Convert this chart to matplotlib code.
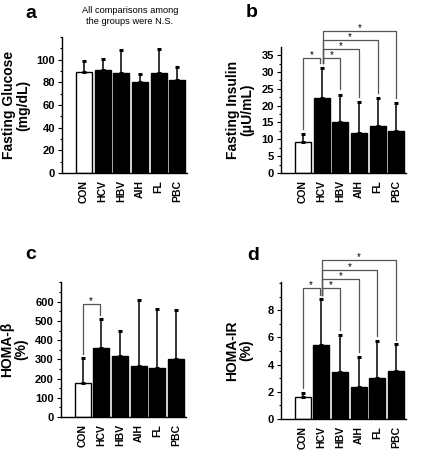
import numpy as np
import matplotlib
matplotlib.use('Agg')
import matplotlib.pyplot as plt
import matplotlib.ticker as mticker

plt.rcParams['font.family'] = ['Liberation Sans', 'DejaVu Sans']

# dados
groups = ['CON', 'HCV', 'HBV', 'AIH', 'FL', 'PBC']

glucose = [89.5, 90.7, 88.3, 80.1, 88.3, 82.5]
glucose_sd = [9.0, 10.0, 20.0, 7.5, 21.0, 11.3]

insulin = [9.1, 22.3, 15.0, 11.8, 14.0, 12.6]
insulin_sd = [2.5, 8.8, 8.3, 9.4, 8.2, 8.1]

homa_b = [175, 361, 318, 264, 253, 302]
homa_b_sd = [134, 149, 130, 345, 308, 254]

homa_ir = [1.60, 5.44, 3.43, 2.33, 3.04, 3.50]
homa_ir_sd = [0.33, 3.36, 2.74, 2.25, 2.69, 1.99]

# comparacoes significativas: (grupo i, grupo j, altura do colchete)
sig_b = [(0, 1, 34.0), (1, 2, 34.0), (1, 3, 36.7), (1, 4, 39.5), (1, 5, 42.1)]
sig_c = [(0, 1, 587)]
sig_d = [(0, 1, 9.65), (1, 2, 9.65), (1, 3, 10.27), (1, 4, 10.95), (1, 5, 11.7)]

W, H = 422, 451
fig = plt.figure(figsize=(W / 100, H / 100), dpi=100)


def make_ax(left, top, bottom):
    width = 6.7 * 18.7
    return fig.add_axes([left / W, 1 - bottom / H, width / W, (bottom - top) / H])


def draw_panel(ax, means, sds, ylim, major, top_tick, minor, ylabel, label_x):
    x = np.arange(len(groups))
    colors = ['white'] + ['black'] * (len(groups) - 1)
    ax.bar(x, means, width=0.86, color=colors, edgecolor='black', linewidth=1,
           yerr=[np.zeros(len(sds)), sds],
           error_kw=dict(ecolor='black', elinewidth=1.1, capsize=1.6, capthick=2.2))
    ax.set_xlim(-1.17, 5.53)
    ax.set_ylim(*ylim)
    ax.set_xticks(x)
    ax.set_xticklabels(groups, rotation=90, fontsize=7.5, fontweight='bold')
    ax.yaxis.set_major_locator(mticker.FixedLocator(np.arange(0, top_tick + major / 2, major)))
    ax.yaxis.set_minor_locator(mticker.MultipleLocator(minor))
    for lab in ax.get_yticklabels():
        lab.set_fontweight('bold')
    ax.tick_params(axis='y', which='major', direction='out', length=3, width=0.8,
                   labelsize=8, pad=2)
    ax.tick_params(axis='y', which='minor', direction='out', length=1.6, width=0.8)
    ax.tick_params(axis='x', length=0, pad=5)
    for s in ['top', 'right']:
        ax.spines[s].set_visible(False)
    for s in ['left', 'bottom']:
        ax.spines[s].set_linewidth(1)
    ax.set_ylabel(ylabel, fontsize=10, fontweight='bold', linespacing=1.0)
    ax.yaxis.set_label_coords(label_x, 0.5)


def draw_sig(ax, means, sds, sigs, gap):
    tops = np.array(means) + np.array(sds)
    for i, j, level in sigs:
        xi = i + (0.06 if i == 1 else 0)
        xj = j - (0.08 if i == 0 else 0)
        ax.plot([xi, xi, xj, xj], [tops[i] + gap, level, level, tops[j] + gap],
                color='#555555', lw=0.9, clip_on=False)
        ax.annotate('*', ((xi + xj) / 2, level), xytext=(0, 0),
                    textcoords='offset pixels', ha='center', va='baseline',
                    fontsize=7, annotation_clip=False)


ax_a = make_ax(62, 37, 173)
draw_panel(ax_a, glucose, glucose_sd, (0, 120), 20, 100, 10,
           'Fasting Glucose\n(mg/dL)', -0.256)

ax_b = make_ax(281, 47, 173)
draw_panel(ax_b, insulin, insulin_sd, (0, 37.4), 5, 35, 2.5,
           'Fasting Insulin\n(\u03bcU/mL)', -0.216)
draw_sig(ax_b, insulin, insulin_sd, sig_b, 1.5)

ax_c = make_ax(60.7, 281.7, 417)
draw_panel(ax_c, homa_b, homa_b_sd, (0, 704), 100, 600, 50,
           'HOMA-\u03b2\n(%)', -0.26)
draw_sig(ax_c, homa_b, homa_b_sd, sig_c, 20)

ax_d = make_ax(280.7, 281.7, 419)
draw_panel(ax_d, homa_ir, homa_ir_sd, (0, 10.1), 2, 8, 1,
           'HOMA-IR\n(%)', -0.22)
draw_sig(ax_d, homa_ir, homa_ir_sd, sig_d, 0.35)

fig.text(130 / W, 1 - 16 / H, 'All comparisons among\nthe groups were N.S.',
         ha='center', va='center', fontsize=6.7, linespacing=1.3)

for letter, px, py in [('a', 25, 18.3), ('b', 246, 17), ('c', 25, 259), ('d', 247, 260)]:
    fig.text(px / W, 1 - py / H, letter, ha='left', va='baseline',
             fontsize=14, fontweight='bold')

fig.savefig('out.png', dpi=100)
